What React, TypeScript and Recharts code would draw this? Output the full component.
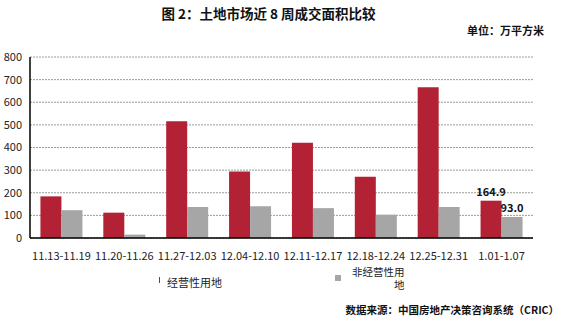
import { BarChart, Bar, XAxis, YAxis, CartesianGrid, Legend, LabelList } from 'recharts'

const weeks = ['11.13-11.19', '11.20-11.26', '11.27-12.03', '12.04-12.10', '12.11-12.17', '12.18-12.24', '12.25-12.31', '1.01-1.07']
const jingying = [184, 112, 516, 294, 421, 271, 666, 164.9]
const feijingying = [123, 15, 137, 140, 132, 103, 137, 93.0]
const yTicks = [0, 100, 200, 300, 400, 500, 600, 700, 800]

const RED = '#B22234'
const GRAY = '#A6A6A6'
const FONT = '"Noto Sans CJK SC", "Noto Sans", sans-serif'

const data = weeks.map((w, i) => ({
  week: w,
  a: jingying[i],
  b: feijingying[i],
  // 只标最后一周
  aLabel: i === weeks.length - 1 ? jingying[i] : undefined,
  bLabel: i === weeks.length - 1 ? feijingying[i] : undefined,
}))

function LegendBox() {
  return (
    <div style={{ position: 'relative', height: 30, fontFamily: FONT, fontSize: 11, color: '#222' }}>
      <span style={{ position: 'absolute', left: 159, top: 11, width: 1, height: 6, background: RED }} />
      <span style={{ position: 'absolute', left: 167, top: 9, lineHeight: '14px' }}>经营性用地</span>
      <span style={{ position: 'absolute', left: 335, top: 9, width: 6, height: 6, background: GRAY }} />
      <span style={{ position: 'absolute', left: 352, top: -1, fontSize: 10.5, lineHeight: '13px', textAlign: 'right', whiteSpace: 'nowrap' }}>
        非经营性用<br />地
      </span>
    </div>
  )
}

export default function App() {
  return (
    <div style={{ position: 'absolute', left: 0, top: 0, width: 565, height: 322, background: '#fff', fontFamily: FONT }}>
      <div style={{ position: 'absolute', left: 0, top: 3, width: 537, textAlign: 'center', fontSize: 13.5, fontWeight: 'bold', color: '#111' }}>
        图 2：土地市场近 8 周成交面积比较
      </div>
      <div style={{ position: 'absolute', right: 21, top: 22, fontSize: 11, fontWeight: 'bold', color: '#111' }}>
        单位：万平方米
      </div>
      <BarChart
        width={565}
        height={322}
        data={data}
        margin={{ top: 57, right: 32, left: 0, bottom: 24 }}
        barCategoryGap="16.6%"
        barGap={0}
      >
        <CartesianGrid vertical={false} stroke="#9a9a9a" strokeDasharray="2 1" />
        <XAxis
          dataKey="week"
          height={30}
          axisLine={{ stroke: '#000', strokeWidth: 1.5 }}
          tickLine={false}
          interval={0}
          tick={{ fontSize: 11, fill: '#222', fontFamily: FONT }}
          tickMargin={8}
        />
        <XAxis xAxisId="top" dataKey="week" orientation="top" height={0} tick={false} tickLine={false} axisLine={{ stroke: '#000', strokeWidth: 1.5 }} />
        <YAxis
          domain={[0, 800]}
          ticks={yTicks}
          interval={0}
          width={30}
          axisLine={{ stroke: '#000', strokeWidth: 1.5 }}
          tickLine={false}
          tick={{ fontSize: 11, fill: '#222', fontFamily: FONT }}
          tickMargin={2}
        />
        <YAxis yAxisId="right" orientation="right" domain={[0, 800]} width={0} tick={false} tickLine={false} axisLine={{ stroke: '#000', strokeWidth: 1.5 }} />
        <Legend verticalAlign="bottom" height={30} content={() => <LegendBox />} wrapperStyle={{ left: 0, width: 565, top: 266 }} />
        <Bar dataKey="a" name="经营性用地" fill={RED} isAnimationActive={false}>
          <LabelList dataKey="aLabel" position="top" formatter={(v: number) => v.toFixed(1)} style={{ fontSize: 11, fontWeight: 'bold', fill: '#111', fontFamily: FONT }} />
        </Bar>
        <Bar dataKey="b" name="非经营性用地" fill={GRAY} isAnimationActive={false}>
          <LabelList dataKey="bLabel" position="top" formatter={(v: number) => v.toFixed(1)} style={{ fontSize: 11, fontWeight: 'bold', fill: '#111', fontFamily: FONT }} />
        </Bar>
      </BarChart>
      <div style={{ position: 'absolute', right: 6, top: 302, fontSize: 10.5, fontWeight: 'bold', color: '#111' }}>
        数据来源：中国房地产决策咨询系统（CRIC）
      </div>
    </div>
  )
}
